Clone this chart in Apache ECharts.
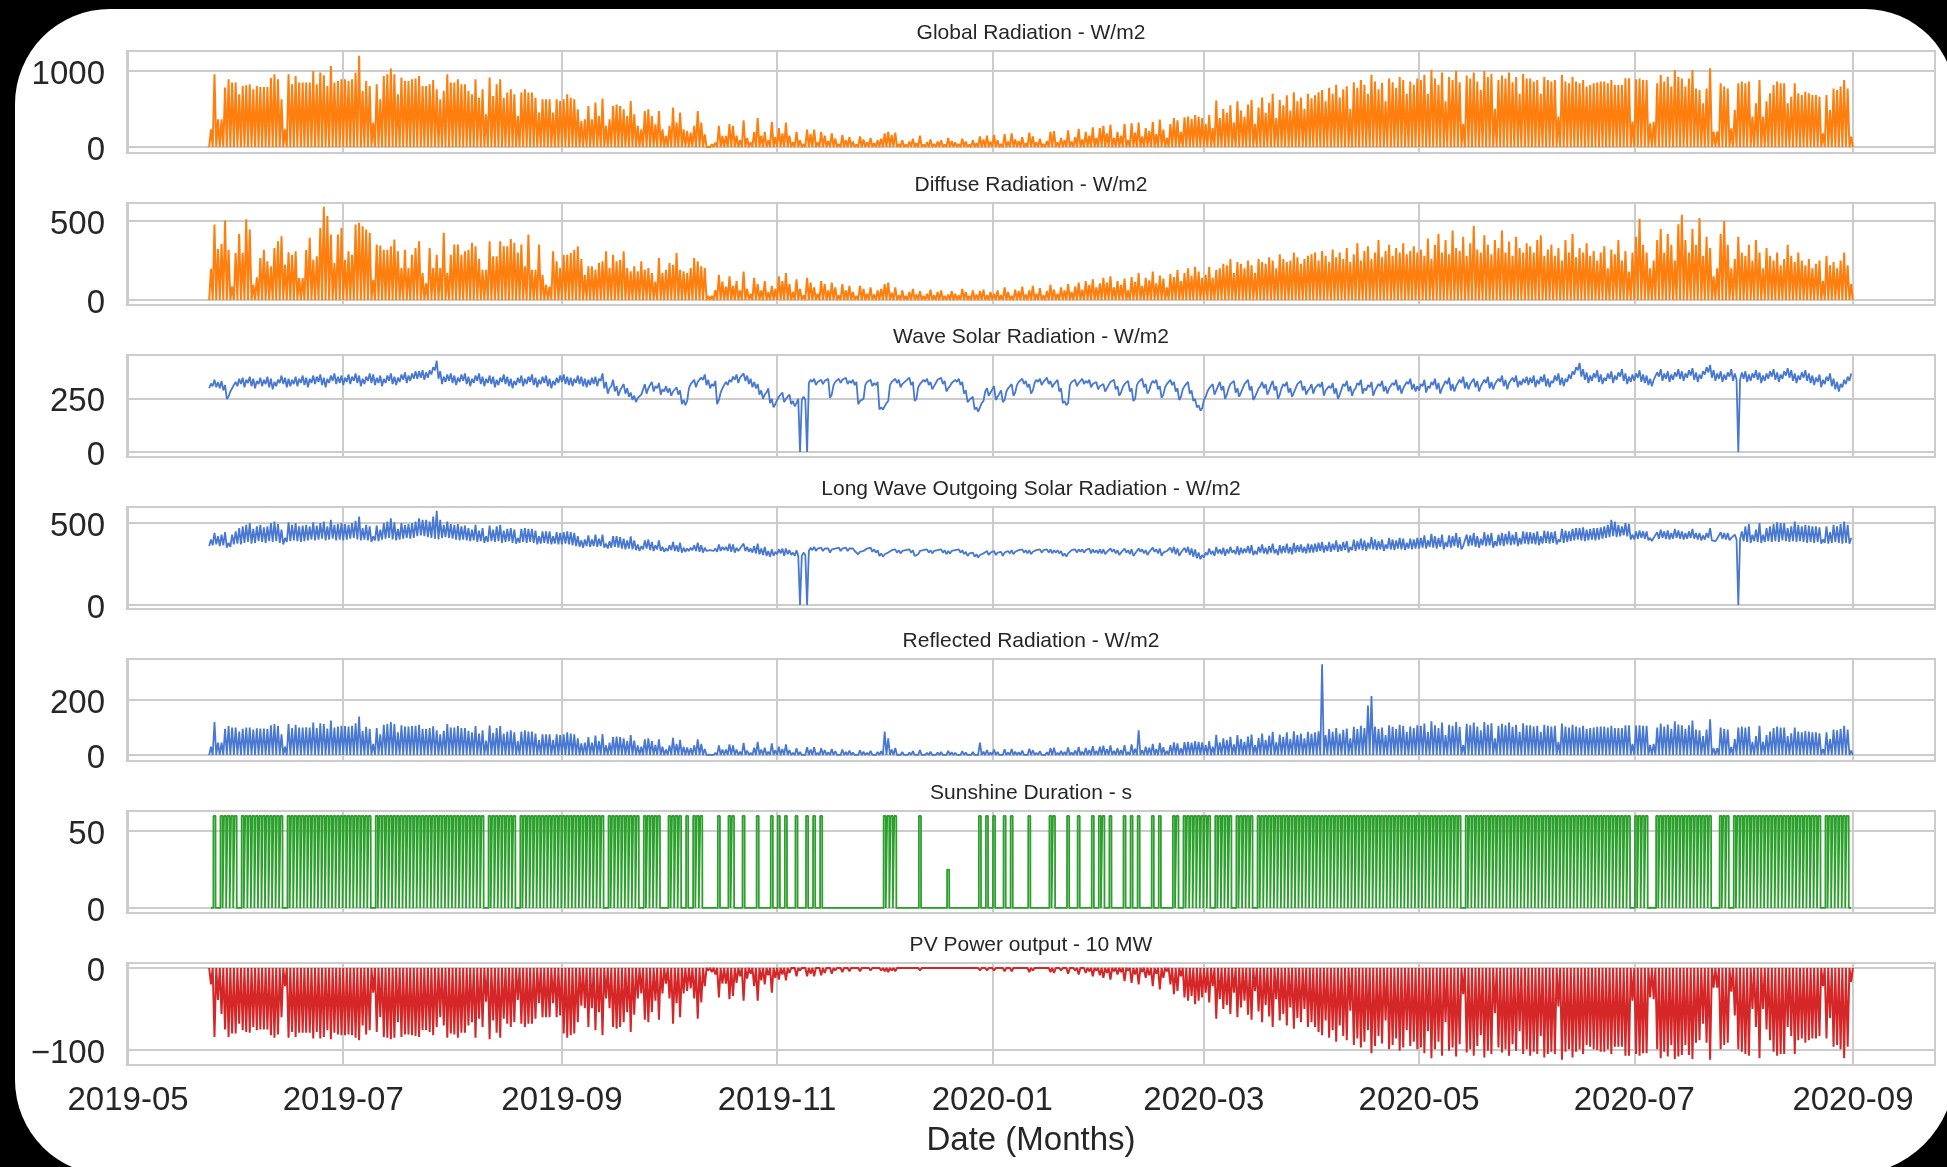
<!DOCTYPE html>
<html><head><meta charset="utf-8">
<script src="https://cdn.jsdelivr.net/npm/echarts@6/dist/echarts.min.js"></script>
<style>
html,body{margin:0;padding:0;background:#000;width:1947px;height:1167px;overflow:hidden}
#bg{position:absolute;left:15px;top:9px;width:1940px;height:1166px;background:#fff;border-radius:95px 90px 105px 95px}
#chart{position:absolute;left:0;top:0;width:1947px;height:1167px}
</style></head><body>
<div id="bg"></div><div id="chart"></div>
<script>
// ---------------- DATA (daily values, first day 2019-05-24) ----------------
const firstDay = '2019-05-24';
const tickDates = ['2019-05-01','2019-07-01','2019-09-01','2019-11-01','2020-01-01','2020-03-01','2020-05-01','2020-07-01','2020-09-01'];
const tickLabels = ['2019-05','2019-07','2019-09','2019-11','2020-01','2020-03','2020-05','2020-07','2020-09'];
const panelTitles = ['Global Radiation - W/m2','Diffuse Radiation - W/m2','Wave Solar Radiation - W/m2','Long Wave Outgoing Solar Radiation - W/m2','Reflected Radiation - W/m2','Sunshine Duration - s','PV Power output - 10 MW'];
const xAxisTitle = 'Date (Months)';
const yTicks = [[0,1000],[0,500],[0,250],[0,500],[0,200],[0,50],[-100,0]];

// daily midday peak of global radiation
const globalPeak = [
233,957,364,364,781,891,847,847,
693,803,812,825,759,803,790,790,790,908,957,891,627,233,957,825,935,847,847,847,847,1000,825,980,945,803,1066,847,869,891,
891,869,891,978,1200,737,869,803,320,825,627,935,957,1033,957,693,913,869,869,891,900,935,803,803,825,880,759,627,737,957,847,
847,891,825,825,737,693,891,649,759,430,913,671,825,891,649,715,760,693,408,715,759,715,715,649,452,627,627,627,452,627,606,
627,693,649,627,496,342,364,540,364,584,408,636,277,364,540,560,540,496,408,606,430,277,233,474,496,408,298,474,233,145,
277,518,320,452,233,211,189,277,474,320,167,22,35,57,277,145,145,300,280,150,90,350,120,60,200,380,150,200,90,330,130,
250,180,320,150,60,200,90,40,230,170,230,60,200,150,80,180,110,40,160,90,130,70,30,140,100,60,120,50,90,110,
180,200,160,190,40,90,30,70,110,50,150,30,60,100,40,70,90,30,120,80,60,40,110,70,30,90,50,140,100,150,70,
160,90,40,170,70,180,100,80,130,50,190,140,60,110,40,80,200,210,60,120,90,220,70,130,240,100,200,150,260,120,250,
280,180,290,120,200,150,300,90,310,190,320,140,250,210,330,170,360,230,120,300,380,350,200,390,400,370,420,400,380,
300,420,250,610,380,500,450,550,320,600,480,400,560,620,300,520,650,450,580,700,380,620,550,680,480,720,600,650,500,700,640,
680,720,750,600,780,700,820,650,760,800,500,850,780,880,820,700,950,860,760,840,600,900,850,780,920,880,700,860,820,900,
880,950,700,1016,900,820,980,600,920,880,1000,850,300,940,900,980,860,750,1000,920,960,500,880,940,900,980,850,920,700,960,900,
900,860,880,700,920,881,860,880,400,947,860,838,920,860,838,880,794,815,838,847,860,860,838,881,815,815,815,904,904,333,
890,900,881,881,310,330,838,947,860,925,794,1013,925,900,794,900,1013,770,750,574,770,1035,202,202,838,794,770,245,487,838,860,
838,860,399,574,881,399,600,706,815,860,838,838,574,662,838,706,684,728,706,684,684,662,180,684,487,770,750,794,881,770,136
];

// daily peak of diffuse radiation
const diffusePeak = [
198,479,323,355,504,319,85,298,
419,298,511,447,96,143,266,319,245,213,330,372,404,223,302,287,309,138,138,319,394,255,277,457,592,532,415,234,415,457,
255,309,287,479,489,468,447,426,128,351,345,319,319,340,383,309,202,319,202,287,330,372,170,106,330,202,287,202,426,170,287,
351,351,287,309,319,362,340,260,192,192,372,277,277,372,340,340,387,362,300,351,213,415,192,192,351,160,96,85,309,245,202,
287,287,298,319,340,260,160,213,213,192,234,245,309,202,287,245,255,309,202,181,213,181,245,192,202,170,117,266,170,192,
234,223,298,192,181,170,202,266,245,213,202,26,26,64,160,117,85,150,90,120,60,180,70,40,140,100,60,120,50,90,70,
150,120,170,100,50,130,70,30,140,110,80,40,120,100,60,110,80,30,100,60,90,50,25,90,70,40,80,35,60,70,
100,110,45,80,30,60,25,50,70,35,55,25,40,65,30,50,60,25,35,55,40,30,70,50,25,60,35,55,65,30,50,
40,60,30,80,50,25,65,55,85,35,60,90,40,75,30,55,95,65,40,80,60,100,50,85,110,65,120,95,130,80,105,
140,110,150,80,120,95,135,60,145,115,170,90,140,125,180,105,155,135,80,165,145,190,120,170,200,155,210,180,140,
160,210,140,190,200,230,220,260,170,240,230,200,250,220,170,260,240,230,270,250,200,290,260,240,250,300,270,230,260,280,290,
300,250,310,280,240,320,270,300,260,330,240,290,360,250,310,340,260,300,380,270,310,350,280,330,300,360,290,310,340,300,
320,280,390,260,350,420,300,380,290,440,330,310,400,280,360,470,320,300,410,350,290,380,330,440,300,370,280,400,330,300,360,
340,300,380,410,280,320,350,280,330,250,380,300,420,270,330,300,360,280,310,250,300,340,200,320,290,380,250,310,180,300,
400,515,350,300,200,250,380,450,300,420,350,250,480,540,380,300,450,350,520,280,400,330,150,200,420,500,350,200,260,400,300,
280,350,250,380,300,200,330,280,250,300,220,260,350,280,240,300,250,220,260,200,230,250,120,280,220,240,200,250,300,220,100
];

// wave solar radiation: daytime (upper) and night-time (lower) level of each day
const waveDay = [
322,340,330,335,315,261,300,330,
345,350,340,355,345,335,350,340,355,345,330,340,360,350,345,340,355,345,360,350,345,360,355,365,350,345,360,370,355,360,
350,365,355,370,360,345,355,370,365,350,360,345,360,370,355,350,365,375,360,370,380,380,385,375,385,400,430,380,355,365,370,
360,350,365,370,355,345,360,370,355,345,360,355,340,350,365,355,345,335,350,360,345,355,365,350,340,355,360,345,335,350,360,
365,355,350,345,360,355,345,340,350,355,345,370,330,300,340,310,290,320,300,280,265,255,270,320,300,330,310,325,295,310,
300,285,305,290,245,240,320,340,330,350,365,340,320,335,245,300,330,340,355,365,350,370,360,345,330,320,290,270,300,250,225,
260,280,250,270,240,230,0,260,0,340,345,330,340,335,345,270,330,345,340,350,335,340,330,240,250,330,340,325,330,210,
206,240,330,345,340,320,335,350,330,250,320,340,345,330,310,340,350,335,300,325,340,345,330,290,245,260,210,198,240,300,280,
310,260,290,245,300,320,280,330,345,335,320,290,340,345,330,350,335,320,340,300,240,230,330,340,325,345,335,340,320,330,310,
320,300,330,340,310,280,320,335,300,250,330,345,320,290,335,340,310,270,320,340,330,300,260,310,330,290,250,220,205,
260,300,320,290,330,310,270,320,335,300,280,320,340,310,260,300,330,320,290,335,310,270,320,330,300,280,320,335,310,290,320,
300,320,330,290,310,325,300,270,320,335,310,290,325,340,300,315,330,290,320,335,310,300,325,340,315,300,330,345,320,310,
320,340,310,330,345,325,300,335,350,320,310,340,355,330,320,345,335,310,340,355,330,320,345,360,340,325,350,360,335,345,355,
350,360,340,355,365,345,335,360,370,350,345,365,380,400,420,390,375,360,370,385,365,350,370,380,360,375,390,370,355,365,
370,385,365,360,345,340,375,390,370,380,365,375,390,380,370,385,395,375,365,380,400,410,385,370,380,365,375,390,370,0,375,
380,365,370,385,375,360,370,380,390,375,365,380,395,385,370,360,375,385,370,360,350,365,340,355,370,345,330,320,340,355,370
];
const waveNight = [
300,310,305,300,290,250,285,300,
310,320,305,325,310,300,320,310,320,305,295,310,325,320,305,310,320,310,325,315,305,325,320,330,315,305,325,335,320,325,
315,330,320,335,325,310,320,335,325,315,325,310,325,335,320,315,330,340,325,335,345,345,350,340,350,365,385,345,320,330,335,
325,315,330,335,320,310,325,335,320,310,325,320,305,315,330,320,310,300,315,325,310,320,330,315,305,320,325,310,300,315,325,
330,320,315,310,325,320,310,305,315,320,310,335,300,275,310,285,265,295,275,260,245,235,250,295,275,305,285,300,270,285,
280,265,285,270,225,220,300,315,305,325,340,315,300,310,225,280,305,315,330,340,325,345,335,320,305,300,270,250,280,230,210,
245,265,235,255,225,215,250,245,245,325,330,315,325,320,330,255,315,330,325,335,320,325,315,225,235,315,325,310,315,200,
200,230,315,330,325,305,320,335,315,240,305,325,330,315,295,325,335,320,285,310,325,330,315,275,235,245,200,190,230,285,265,
295,245,275,235,285,305,265,315,330,320,305,275,325,330,315,335,320,305,325,285,230,220,315,325,310,330,320,325,305,315,295,
305,285,315,325,295,265,305,320,285,240,315,330,305,275,320,325,295,255,305,325,315,285,245,295,315,275,240,210,195,
245,285,300,270,310,290,250,300,315,280,260,300,320,290,245,280,310,300,270,315,290,250,300,310,280,260,300,315,290,270,300,
275,295,305,265,285,300,275,250,295,310,285,265,300,315,275,290,305,265,295,310,285,275,300,315,290,275,305,320,295,285,
290,310,280,300,315,295,275,305,320,290,285,310,325,300,295,315,305,285,310,325,300,295,315,330,310,295,320,330,305,315,325,
315,325,305,320,330,310,305,325,335,315,310,330,345,365,385,355,340,325,335,350,330,320,335,345,325,340,355,335,320,330,
335,350,330,325,315,310,340,355,335,345,330,340,355,345,335,350,360,340,330,345,365,375,350,335,345,330,340,355,335,340,340,
345,330,335,350,340,325,335,345,355,340,330,345,360,350,335,325,340,350,335,325,315,330,305,320,335,310,295,285,305,320,335
];

// long wave outgoing radiation: night (midnight) and day (midday) values
const longNight = [
360,365,370,360,365,350,355,370,
375,370,380,385,375,380,390,385,380,390,385,390,380,370,385,390,395,390,385,390,395,400,395,400,405,395,400,405,395,400,
395,400,405,410,400,395,400,395,385,395,390,400,405,410,400,395,400,405,410,405,410,420,425,420,415,410,405,400,410,415,410,
405,400,395,400,395,390,395,385,390,380,385,390,385,390,380,385,390,380,375,380,385,380,385,380,370,375,380,375,370,375,370,
370,375,370,365,360,355,350,360,355,360,355,360,350,345,350,355,350,345,340,345,340,335,330,340,345,335,330,340,330,325,
330,335,330,325,320,325,330,335,330,325,320,330,335,330,325,330,335,330,325,320,330,335,330,325,320,315,310,305,300,295,300,
310,315,300,310,305,300,300,300,305,330,335,330,335,330,335,320,330,335,330,335,330,335,330,310,315,330,335,325,320,300,
295,305,320,325,320,315,320,325,320,300,310,320,325,320,315,320,325,320,310,315,320,325,320,310,300,305,295,290,300,310,305,
310,305,310,300,315,315,310,320,325,320,315,310,320,325,320,325,320,315,320,315,300,295,320,325,320,325,320,325,315,320,315,
315,310,320,325,315,305,315,320,310,300,320,325,315,305,320,325,315,300,315,325,320,310,300,315,320,305,295,285,280,
290,305,310,300,315,310,300,315,320,310,305,315,320,315,305,310,320,315,310,320,315,305,315,320,315,310,320,325,320,315,320,
320,325,330,320,330,325,335,325,330,335,320,335,330,340,335,330,345,340,335,340,330,345,340,335,345,340,335,345,340,345,
345,350,345,355,350,345,355,340,355,350,360,350,340,355,360,365,355,350,365,360,365,350,360,365,360,370,365,370,360,370,375,
370,375,370,365,375,380,375,380,370,385,380,385,390,395,400,395,390,395,400,395,400,405,410,415,420,415,420,425,420,400,
400,405,410,405,395,390,400,405,410,405,400,405,410,405,400,405,410,405,400,395,400,410,395,390,400,405,400,395,400,400,400,
390,385,380,390,385,380,385,390,385,390,385,395,390,385,390,385,390,385,380,385,380,385,375,380,375,380,385,380,375,380,375
];
const longDay = [
400,440,420,430,445,380,430,450,
470,480,490,500,465,480,490,475,480,500,510,495,460,410,505,490,500,480,485,490,480,505,485,500,510,480,520,490,495,500,
495,490,500,515,540,470,490,480,420,485,460,500,510,530,505,465,500,490,495,500,510,530,520,520,510,540,575,520,490,510,495,
490,495,480,485,470,460,490,455,470,420,485,460,480,490,455,465,470,460,410,465,470,465,465,455,420,450,450,450,420,445,440,
445,450,445,440,420,395,400,425,400,430,405,430,375,390,420,420,415,405,395,420,395,370,360,395,400,385,365,395,355,345,
365,385,365,380,350,345,350,365,380,365,350,340,345,345,370,355,355,375,370,350,345,375,355,345,360,375,345,355,330,340,325,
340,345,345,335,320,335,0,320,0,350,355,345,350,345,345,340,345,350,345,350,345,345,340,325,330,345,350,340,335,315,
310,320,335,340,335,330,335,340,335,310,330,335,340,335,330,335,340,335,330,330,335,340,335,325,315,320,310,305,315,330,320,
330,320,325,320,330,335,325,335,340,335,335,325,335,340,335,340,340,335,335,330,315,315,335,340,340,340,335,345,340,335,340,
340,325,345,340,335,320,345,335,340,315,345,340,335,325,350,340,345,320,330,350,355,345,320,350,355,345,340,320,305,
320,345,330,355,340,350,340,355,335,360,350,345,360,365,330,355,370,350,360,375,340,365,360,375,355,380,365,370,355,375,370,
375,380,385,365,385,375,395,370,385,390,355,400,390,405,395,380,415,400,390,400,370,410,400,395,410,405,380,405,400,410,
410,425,395,435,420,410,430,385,425,420,440,415,360,430,425,440,420,405,445,430,440,390,430,440,435,450,430,445,410,450,445,
445,440,450,420,455,450,445,450,400,465,455,450,465,470,470,475,460,465,470,470,475,480,490,520,510,490,480,500,495,430,
450,455,450,450,410,410,445,460,450,455,440,465,455,450,440,450,465,440,440,425,440,470,405,405,445,440,440,410,430,0,450,
480,495,430,460,500,430,470,480,495,505,500,500,470,480,510,490,480,490,485,480,480,475,400,480,445,490,480,495,510,490,410
];

// daily peak of reflected radiation
const reflectedPeak = [
30,120,45,45,95,105,100,100,
85,95,100,100,92,97,96,96,95,108,112,106,75,30,112,98,110,100,100,101,100,118,98,115,112,96,125,100,103,106,
105,103,106,115,140,88,102,95,40,98,75,110,112,120,112,82,108,103,103,105,106,110,95,95,98,104,90,75,88,112,100,
100,105,98,98,88,82,105,78,90,52,107,80,98,105,78,85,90,82,50,85,90,85,85,78,55,75,75,75,55,75,72,
75,82,78,75,60,42,45,65,45,70,50,76,35,45,65,67,65,60,50,72,52,35,30,57,60,50,37,57,30,20,
35,62,40,55,30,27,24,35,57,40,22,4,5,8,35,20,20,38,35,20,12,44,16,8,26,48,20,26,12,42,17,
30,22,38,18,8,24,11,5,28,20,28,8,24,18,10,22,14,5,20,11,16,9,4,17,12,8,15,6,11,14,
85,60,20,25,5,11,4,9,14,6,18,4,8,12,5,9,11,4,15,10,8,5,14,9,4,11,6,45,12,18,9,
20,11,5,21,9,22,12,10,16,6,23,17,8,14,5,10,24,26,8,15,11,27,9,16,29,12,25,18,32,15,30,
34,22,35,15,24,18,36,11,38,23,90,17,30,26,40,21,44,28,15,36,46,42,24,47,48,45,50,48,46,
36,50,30,73,46,60,54,66,38,72,58,48,67,74,36,62,78,54,70,84,46,74,66,82,58,86,72,78,60,84,77,
82,86,330,72,94,84,98,78,91,96,60,102,94,106,98,180,214,103,95,100,72,108,102,94,110,106,84,103,98,108,
106,114,84,122,108,98,118,72,110,106,120,102,36,113,108,118,103,90,120,110,115,60,106,113,108,118,102,110,84,115,108,
108,103,106,84,110,106,103,106,48,114,103,100,110,103,100,106,95,98,100,102,103,103,100,106,98,98,98,108,108,40,
107,108,106,106,37,40,100,114,103,111,95,122,111,108,95,108,125,92,90,69,92,130,24,24,100,95,92,29,58,100,103,
100,103,48,69,106,48,72,85,98,103,100,100,69,79,100,85,82,87,85,82,82,79,22,82,58,92,90,95,106,92,16
];

// daily sunshine duration level (0 = no sun)
const sunshinePeak = [
0,60,0,60,60,60,60,60,
0,60,60,60,60,60,60,60,60,60,60,60,60,0,60,60,60,60,60,60,60,60,60,60,60,60,60,60,60,60,
60,60,60,60,60,60,60,60,0,60,60,60,60,60,60,60,60,60,60,60,60,60,60,60,60,60,60,60,60,60,60,
60,60,60,60,60,60,60,60,60,0,60,60,60,60,60,60,60,60,0,60,60,60,60,60,60,60,60,60,60,60,60,
60,60,60,60,60,60,60,60,60,60,60,60,0,60,60,60,60,60,60,60,60,60,0,60,60,60,60,60,0,0,
60,60,60,60,0,60,0,60,60,60,0,0,0,0,60,0,0,60,60,0,0,60,0,0,0,60,0,0,0,60,0,
60,0,60,0,0,60,0,0,60,0,60,0,60,0,0,0,0,0,0,0,0,0,0,0,0,0,0,0,0,0,
60,60,60,60,0,0,0,0,0,0,60,0,0,0,0,0,0,0,25,0,0,0,0,0,0,0,0,60,0,60,0,
60,0,0,60,0,60,0,0,0,0,60,0,0,0,0,0,60,60,0,0,0,60,0,0,60,0,0,0,60,0,60,
60,0,60,0,0,0,60,0,60,0,60,0,0,0,60,0,60,0,0,0,60,60,0,60,60,60,60,60,60,
60,60,0,60,60,60,60,60,0,60,60,60,60,60,0,60,60,60,60,60,60,60,60,60,60,60,60,60,60,60,60,
60,60,60,60,60,60,60,60,60,60,60,60,60,60,60,60,60,60,60,60,60,60,60,60,60,60,60,60,60,60,
60,60,60,60,60,60,60,60,60,60,60,60,0,60,60,60,60,60,60,60,60,60,60,60,60,60,60,60,60,60,60,
60,60,60,60,60,60,60,60,60,60,60,60,60,60,60,60,60,60,60,60,60,60,60,60,60,60,60,60,60,0,
60,60,60,60,0,0,60,60,60,60,60,60,60,60,60,60,60,60,60,60,60,60,0,0,60,60,60,0,60,60,60,
60,60,60,60,60,60,60,60,60,60,60,60,60,60,60,60,60,60,60,60,60,60,0,60,60,60,60,60,60,60,0
];

// daily peak of PV power output (negative)
const pvPeak = [
-20,-84,-39,-56,-75,-84,-80,-80,
-68,-76,-78,-79,-72,-76,-75,-75,-75,-82,-85,-81,-60,-22,-85,-78,-84,-79,-79,-79,-79,-86,-78,-86,-84,-76,-87,-79,-81,-82,
-82,-81,-82,-85,-88,-70,-81,-76,-30,-78,-60,-84,-85,-87,-85,-66,-84,-81,-81,-82,-83,-84,-76,-76,-78,-82,-72,-60,-70,-85,-80,
-81,-85,-79,-79,-70,-66,-85,-62,-72,-41,-87,-64,-79,-85,-62,-68,-72,-66,-39,-68,-72,-68,-68,-62,-43,-60,-60,-60,-43,-60,-58,
-80,-85,-82,-80,-66,-46,-49,-72,-49,-76,-54,-82,-37,-49,-72,-74,-72,-66,-54,-78,-57,-37,-31,-63,-66,-54,-40,-63,-31,-19,
-37,-68,-43,-60,-31,-28,-25,-37,-62,-42,-22,-3,-5,-8,-36,-19,-19,-38,-34,-18,-10,-40,-13,-7,-22,-40,-15,-20,-9,-30,-12,
-14,-8,-15,-6,-2,-10,-3,-1,-10,-7,-10,-2,-9,-6,-2,-7,-3,-1,-5,-2,-4,-2,-1,-4,-2,-1,-3,-1,-2,-3,
-4,-5,-3,-4,-1,-2,-0.5,-1,-2,-1,-3,-0.5,-1,-2,-0.5,-1,-2,-0.5,-2,-1,-1,-0.5,-2,-1,-0.5,-1,-0.5,-3,-2,-3,-1,
-3,-1,-0.5,-4,-1,-4,-2,-1,-2,-0.5,-5,-3,-1,-2,-0.5,-1,-5,-6,-1,-3,-2,-7,-1,-3,-8,-2,-6,-4,-10,-3,-9,
-12,-6,-14,-4,-8,-5,-16,-3,-18,-8,-20,-5,-12,-9,-22,-7,-26,-12,-4,-20,-32,-28,-10,-36,-40,-34,-44,-40,-36,
-30,-42,-22,-62,-38,-50,-45,-56,-30,-60,-48,-40,-57,-63,-28,-53,-66,-45,-59,-72,-38,-64,-56,-70,-48,-74,-61,-66,-50,-72,-66,
-72,-78,-82,-64,-85,-76,-90,-70,-83,-88,-52,-94,-86,-97,-90,-76,-104,-95,-83,-92,-64,-99,-94,-86,-101,-97,-76,-95,-90,-99,
-97,-104,-77,-110,-99,-90,-107,-66,-101,-97,-108,-93,-32,-103,-99,-107,-95,-82,-109,-101,-105,-55,-97,-103,-99,-107,-93,-101,-77,-105,-99,
-107,-102,-105,-83,-109,-105,-102,-105,-47,-112,-102,-99,-109,-102,-99,-105,-94,-96,-99,-100,-102,-102,-99,-105,-96,-96,-96,-107,-107,-40,
-105,-107,-104,-104,-36,-38,-99,-110,-102,-108,-94,-111,-108,-106,-94,-106,-111,-91,-88,-68,-91,-112,-24,-24,-99,-94,-91,-29,-58,-99,-102,
-105,-107,-50,-72,-110,-50,-75,-88,-102,-107,-105,-105,-72,-83,-105,-88,-86,-91,-88,-86,-86,-83,-22,-86,-61,-96,-94,-99,-110,-96,-17
];

// ---------------- BUILD ----------------
const DAY = 86400000, HOUR = 3600000;
const t0 = Date.parse(firstDay + 'T00:00:00Z');
const monthStart = Date.parse(tickDates[0] + 'T00:00:00Z');
const xMin = monthStart - 0.3 * DAY;
const xMax = monthStart + 512.26 * DAY;
const tickValues = tickDates.map(d => Date.parse(d + 'T00:00:00Z'));

function spikeSeries(arr) {
  const out = [];
  arr.forEach((v, i) => { const t = t0 + i * DAY; out.push([t, 0], [t + 12 * HOUR, v]); });
  out.push([t0 + arr.length * DAY - HOUR, 0]);
  return out;
}
function sunSeries(arr) {
  const out = [];
  arr.forEach((v, i) => {
    const t = t0 + i * DAY;
    if (v > 0) out.push([t + 4.5 * HOUR, 0], [t + 5 * HOUR, v], [t + 19 * HOUR, v], [t + 19.5 * HOUR, 0]);
    else out.push([t + 12 * HOUR, 0]);
  });
  return out;
}
function dayNightSeries(day, night) {
  const out = [];
  day.forEach((v, i) => { const t = t0 + i * DAY; out.push([t, night[i]], [t + 12 * HOUR, v]); });
  return out;
}

const ORANGE = '#ff7f0e', BLUE = '#4878d0', GREEN = '#2ca02c', RED = '#d62728';
const panels = [
  { data: spikeSeries(globalPeak), color: ORANGE, min: -79, max: 1263, w: 2 },
  { data: spikeSeries(diffusePeak), color: ORANGE, min: -32, max: 615, w: 2 },
  { data: dayNightSeries(waveDay, waveNight), color: BLUE, min: -24, max: 457, w: 1.8 },
  { data: dayNightSeries(longDay, longNight), color: BLUE, min: -25, max: 599, w: 1.8 },
  { data: spikeSeries(reflectedPeak), color: BLUE, min: -22, max: 349, w: 1.8 },
  { data: sunSeries(sunshinePeak), color: GREEN, min: -3.3, max: 63.2, w: 1.8 },
  { data: spikeSeries(pvPeak), color: RED, min: -118.3, max: 6.1, w: 2 }
];

const FONT = '"Liberation Sans", Arial, Helvetica, sans-serif';
const TXT = '#262626', GRIDC = '#cccccc';
const LEFT = 127, WIDTH = 1808, TOP0 = 51, STEP = 152, H = 102;

function fmtDate(v) {
  const k = tickValues.indexOf(v);
  if (k >= 0) return tickLabels[k];
  const d = new Date(v);
  return d.getUTCFullYear() + '-' + String(d.getUTCMonth() + 1).padStart(2, '0');
}

const chart = echarts.init(document.getElementById('chart'), null, { renderer: 'canvas' });
const option = {
  animation: false,
  backgroundColor: 'transparent',
  grid: panels.map((p, i) => ({ left: LEFT, width: WIDTH, top: TOP0 + STEP * i, height: H, show: true, borderColor: GRIDC, borderWidth: 2, backgroundColor: 'transparent', containLabel: false })),
  xAxis: panels.map((p, i) => ({
    type: 'value', gridIndex: i, min: xMin, max: xMax, scale: true,
    axisLine: { show: false },
    axisTick: { show: false, customValues: tickValues },
    axisLabel: {
      show: i === panels.length - 1, customValues: tickValues, fontSize: 33, color: TXT, fontFamily: FONT, margin: 19,
      formatter: fmtDate
    },
    splitLine: { show: true, lineStyle: { color: GRIDC, width: 2 } },
    name: i === panels.length - 1 ? xAxisTitle : '',
    nameLocation: 'middle', nameGap: 59,
    nameTextStyle: { fontSize: 33, color: TXT, fontFamily: FONT }
  })),
  yAxis: panels.map((p, i) => ({
    type: 'value', gridIndex: i, min: p.min, max: p.max,
    axisLine: { show: false },
    axisTick: { show: false, customValues: yTicks[i] },
    axisLabel: { customValues: yTicks[i], margin: 22,
      formatter: v => '{t|' + String(v).replace('-', '\u2212') + '}',
      rich: { t: { fontSize: 33, color: TXT, fontFamily: FONT, padding: [7, 0, 0, 0] } } },
    splitLine: { show: true, lineStyle: { color: GRIDC, width: 2 } }
  })),
  series: panels.map((p, i) => ({
    type: 'line', xAxisIndex: i, yAxisIndex: i, data: p.data,
    showSymbol: false, symbol: 'none', silent: true, z: 3,
    lineStyle: { color: p.color, width: p.w }, itemStyle: { color: p.color }
  })),
  graphic: panelTitles.map((t, i) => ({
    type: 'text', x: LEFT + WIDTH / 2, y: TOP0 + STEP * i - 17.5, silent: true,
    style: { text: t, fill: TXT, font: '21px ' + FONT, textAlign: 'center', textVerticalAlign: 'middle', verticalAlign: 'middle' }
  }))
};
chart.setOption(option);
</script>
</body></html>
